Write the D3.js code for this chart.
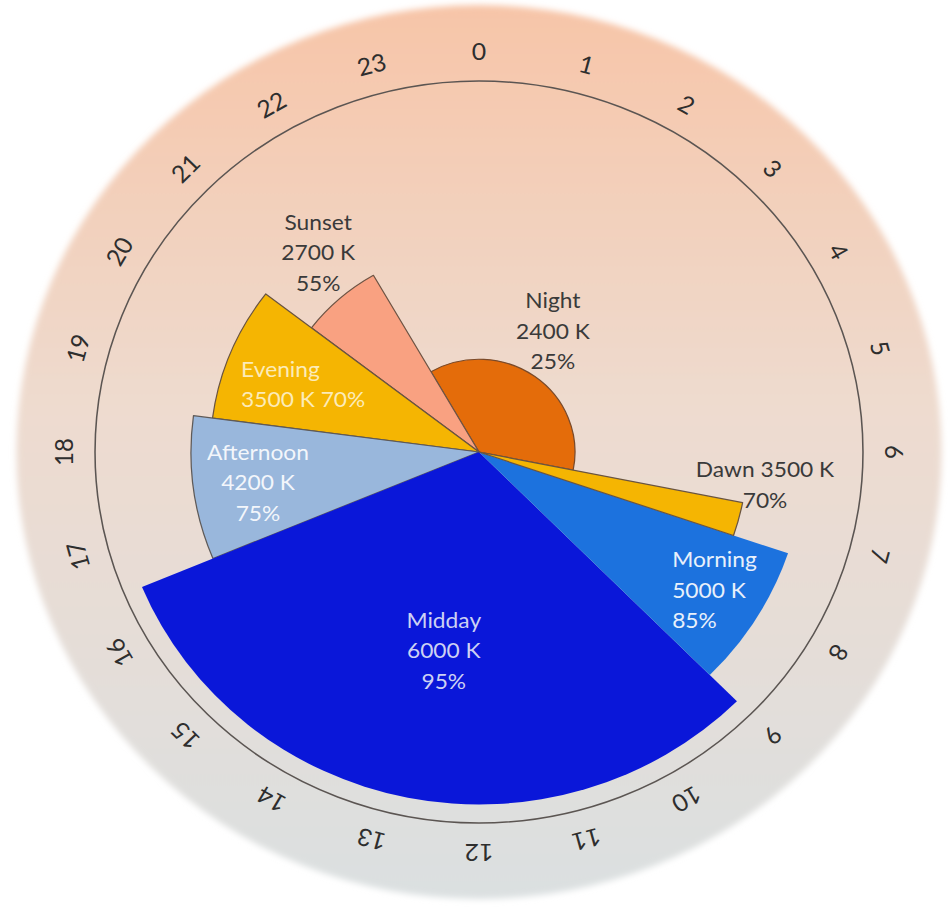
<!DOCTYPE html>
<html>
<head>
<meta charset="utf-8">
<script src="https://cdn.jsdelivr.net/npm/d3@7"></script>
<style>
  html, body { margin: 0; padding: 0; background: #ffffff; }
  svg { display: block; }
  text { font-family: "Lato", "Noto Sans", sans-serif; }
</style>
</head>
<body>
<svg id="chart" width="948" height="908"></svg>
<script>
// ---------- data ----------
const segments   = ["Night", "Dawn", "Morning", "Midday", "Afternoon", "Evening", "Sunset"];
const kelvin     = [2400, 3500, 5000, 6000, 4200, 3500, 2700];
const intensity  = [25, 70, 85, 95, 75, 70, 55];            // % of full radius
const startHour  = [22, 6.75, 7.25, 9, 16.5, 18.5, 20.5];
const endHour    = [6.75, 7.25, 9, 16.5, 18.5, 20.5, 22];
const colors     = ["#e46c0a", "#f5b502", "#1c72de", "#0a17d9", "#99b7dc", "#f5b502", "#f9a181"];
const hourLabels = ["0","1","2","3","4","5","6","7","8","9","10","11",
                    "12","13","14","15","16","17","18","19","20","21","22","23"];

// ---------- layout / style (not data) ----------
const W = 948, H = 908;
const cx = 479, cy = 452, stretchX = 1.035;
const R = 371;            // inner ring = 100 %
const labelR = 401;       // hour labels
const bgR = 447;          // background disc
const drawOrder = [0, 6, 5, 4, 3, 2, 1];
const strokes = ["#7a4a2a", "#6a5440", "none", "none", "#5e5a58", "#6a5440", "#6e5444"];
// label placement in polar terms: [hour, % radius], anchor, colour, line style
const labelLayout = [
  { hour: 1.76,  pct: 43.3, anchor: "middle", fill: "#3a3a3a", split: "3" },
  { hour: 6.35,  pct: 74.8, anchor: "middle", fill: "#3a3a3a", split: "nameK" },
  { hour: 8.11,  pct: 59.1, anchor: "start",  fill: "#e8f0fb", split: "3" },
  { hour: 12.73, pct: 48.3, anchor: "middle", fill: "#cdd1f3", split: "3" },
  { hour: 17.86, pct: 57.6, anchor: "middle", fill: "#f3f6fb", split: "3" },
  { hour: 19.21, pct: 65.2, anchor: "start",  fill: "#fcebb8", split: "KP" },
  { hour: 21.67, pct: 73.1, anchor: "middle", fill: "#3a3a3a", split: "3" }
];

// ---------- scales ----------
const angle = d3.scaleLinear().domain([0, 24]).range([0, 2 * Math.PI]);
const radius = d3.scaleLinear().domain([0, 100]).range([0, R]);

const svg = d3.select("#chart");
const defs = svg.append("defs");
const grad = defs.append("linearGradient").attr("id", "bg").attr("x1", 0).attr("y1", 0).attr("x2", 0).attr("y2", 1);
grad.append("stop").attr("offset", "0%").attr("stop-color", "#f7c5a8");
grad.append("stop").attr("offset", "45%").attr("stop-color", "#eedbcf");
grad.append("stop").attr("offset", "100%").attr("stop-color", "#dbe0e1");
defs.append("filter").attr("id", "soft").attr("x", "-5%").attr("y", "-5%").attr("width", "110%").attr("height", "110%")
  .append("feGaussianBlur").attr("stdDeviation", 3);

const g = svg.append("g").attr("transform", `translate(${cx},${cy}) scale(${stretchX},1)`);

// background disc
g.append("circle").attr("r", bgR).attr("fill", "url(#bg)").attr("filter", "url(#soft)");

// inner ring
g.append("circle").attr("r", radius(100)).attr("fill", "none")
  .attr("stroke", "#5b5552").attr("stroke-width", 1.5);

// hour labels
g.selectAll("text.hour").data(hourLabels).enter().append("text")
  .attr("class", "hour")
  .attr("transform", (d, i) => `rotate(${angle(i) * 180 / Math.PI}) translate(0,${-labelR})`)
  .attr("text-anchor", "middle")
  .attr("dy", "0.36em")
  .attr("font-size", 24)
  .attr("fill", "#2e2e2e")
  .text(d => d);

// wedges
const arc = d3.arc().innerRadius(0);
const wedgeData = drawOrder.map(i => ({
  i,
  startAngle: angle(startHour[i]),
  endAngle: angle(endHour[i] < startHour[i] ? endHour[i] + 24 : endHour[i]),
  outerRadius: radius(intensity[i])
}));
g.selectAll("path.wedge").data(wedgeData).enter().append("path")
  .attr("class", "wedge")
  .attr("d", d => arc(d))
  .attr("fill", d => colors[d.i])
  .attr("stroke", d => strokes[d.i])
  .attr("stroke-width", 1.2)
  .attr("stroke-linejoin", "round");

// wedge labels
function lines(i) {
  const s = labelLayout[i].split;
  if (s === "nameK") return [`${segments[i]} ${kelvin[i]} K`, `${intensity[i]}%`];
  if (s === "KP") return [segments[i], `${kelvin[i]} K ${intensity[i]}%`];
  return [segments[i], `${kelvin[i]} K`, `${intensity[i]}%`];
}
segments.forEach((name, i) => {
  const L = labelLayout[i];
  const a = angle(L.hour), r = radius(L.pct);
  const x = r * Math.sin(a), y = -r * Math.cos(a);
  const t = g.append("text")
    .attr("x", x).attr("y", y)
    .attr("text-anchor", L.anchor)
    .attr("font-size", 22)
    .attr("fill", L.fill);
  lines(i).forEach((ln, k) => {
    t.append("tspan").attr("x", x).attr("dy", k === 0 ? 0 : 30.5).text(ln);
  });
});
</script>
</body>
</html>
